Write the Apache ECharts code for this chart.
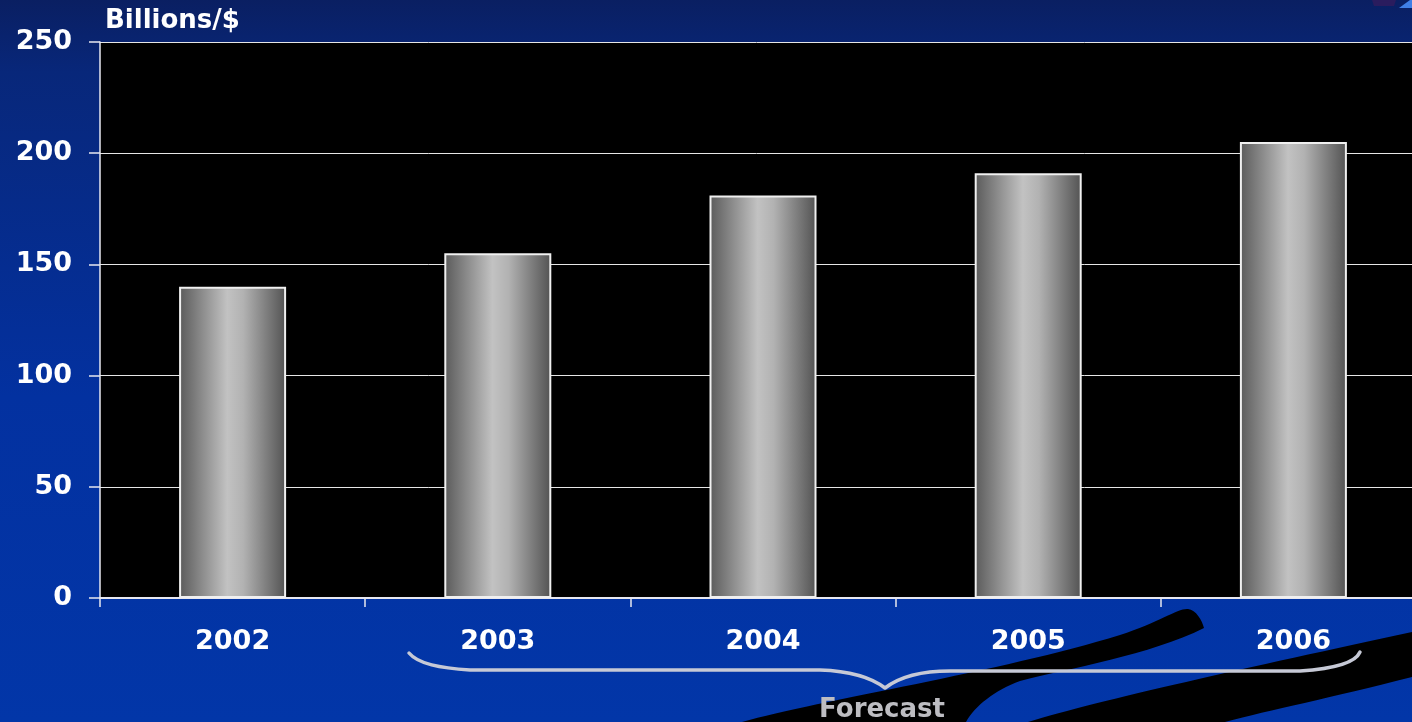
<!DOCTYPE html>
<html>
<head>
<meta charset="utf-8">
<title>Billions/$ 2002–2006</title>
<script src="https://cdn.jsdelivr.net/npm/echarts@6/dist/echarts.min.js"></script>
<style>
  html, body { margin: 0; padding: 0; background: #0b2369; }
  #chart { width: 1412px; height: 722px; }
</style>
</head>
<body>
<div id="chart"></div>
<script>
// Annual totals in billions of dollars (2003 onward are forecast)
const years = ['2002', '2003', '2004', '2005', '2006'];
const totals = [140, 155, 181, 191, 205];
const yTicks = { min: 0, max: 250, step: 50 };
const unitLabel = 'Billions/$';
const forecastLabel = 'Forecast';

const FONT = '"DejaVu Sans", "Liberation Sans", Arial, sans-serif';

// Decorative outlines: two black ribbons and the brace over the forecast years
const decorPaths = {
  ribbonUpper: 'M 742 722 C 820 700, 1000 672, 1120 635 C 1160 622, 1178 608, 1188 609 C 1196 610, 1202 620, 1204 628 C 1150 655, 1070 668, 1020 681 C 995 690, 975 706, 966 722 Z',
  ribbonLower: 'M 1028 722 C 1100 700, 1250 667, 1412 632 L 1412 677 C 1330 698, 1270 710, 1225 722 Z',
  brace: 'M 409 653 C 418 664, 440 668, 470 670 L 820 670 C 850 671, 872 678, 885 688 C 898 678, 920 671, 950 671 L 1300 671 C 1330 669, 1355 664, 1360 652'
};
Object.keys(decorPaths).forEach(function (name) {
  echarts.graphic.registerShape(name, echarts.graphic.extendPath(decorPaths[name], {}));
});

const chart = echarts.init(document.getElementById('chart'), null, { renderer: 'canvas' });

const barFill = new echarts.graphic.LinearGradient(0, 0, 1, 0, [
  { offset: 0, color: '#5a5a5a' },
  { offset: 0.45, color: '#c2c2c2' },
  { offset: 0.6, color: '#b2b2b2' },
  { offset: 1, color: '#525252' }
]);

chart.setOption({
  animation: false,
  backgroundColor: new echarts.graphic.LinearGradient(0, 0, 0, 1, [
    { offset: 0, color: '#0a1f62' },
    { offset: 0.1, color: '#08277a' },
    { offset: 0.55, color: '#0331a0' },
    { offset: 1, color: '#0236a8' }
  ]),
  grid: {
    left: 100, top: 42, width: 1326, height: 556,
    outerBoundsMode: 'none',
    containLabel: false,
    show: true, backgroundColor: '#000000', borderWidth: 0
  },
  xAxis: {
    type: 'category',
    data: years,
    axisLine: { show: true, lineStyle: { color: '#e8e8f0', width: 2 } },
    axisTick: { show: true, length: 9, lineStyle: { color: '#e8e8f0', width: 1.5 } },
    axisLabel: {
      color: '#ffffff', fontFamily: FONT, fontWeight: 'bold', fontSize: 27, margin: 30
    },
    splitLine: { show: false }
  },
  yAxis: {
    type: 'value',
    min: yTicks.min, max: yTicks.max, interval: yTicks.step,
    axisLine: { show: true, lineStyle: { color: '#e8e8f0', width: 1.5 } },
    axisTick: { show: true, length: 11, lineStyle: { color: '#e8e8f0', width: 1.5 } },
    axisLabel: {
      color: '#ffffff', fontFamily: FONT, fontWeight: 'bold', fontSize: 27, margin: 28,
      padding: [4, 0, 0, 0]
    },
    splitLine: { show: true, lineStyle: { color: '#e6e6e6', width: 1 } }
  },
  series: [{
    type: 'bar',
    data: totals,
    barWidth: 107,
    itemStyle: { color: barFill, borderColor: '#f0f0f0', borderWidth: 2 },
    z: 3
  }],
  graphic: [
    { type: 'ribbonUpper', z: 1, silent: true, style: { fill: '#000000' } },
    { type: 'ribbonLower', z: 1, silent: true, style: { fill: '#000000' } },
    // small corner ornament
    {
      type: 'polygon', z: 1, silent: true,
      shape: { points: [[1372, 0], [1396, 0], [1394, 6], [1374, 6]] },
      style: { fill: '#2a1c5e' }
    },
    {
      type: 'polygon', z: 1, silent: true,
      shape: { points: [[1399, 8], [1410, 0], [1412, 0], [1412, 8]] },
      style: { fill: '#3f7fe6' }
    },
    {
      type: 'brace', z: 5, silent: true,
      style: { fill: null, stroke: '#c6c9d6', lineWidth: 3.5, lineCap: 'round', lineJoin: 'round' }
    },
    {
      type: 'text', z: 6, silent: true,
      x: 882, y: 710,
      style: {
        text: forecastLabel, fill: '#bdbdc2', font: 'bold 26px ' + FONT,
        textAlign: 'center', textVerticalAlign: 'middle'
      }
    },
    {
      type: 'text', z: 6, silent: true,
      x: 105, y: 21,
      style: {
        text: unitLabel, fill: '#ffffff', font: 'bold 26px ' + FONT,
        textAlign: 'left', textVerticalAlign: 'middle'
      }
    }
  ]
});
</script>
</body>
</html>
